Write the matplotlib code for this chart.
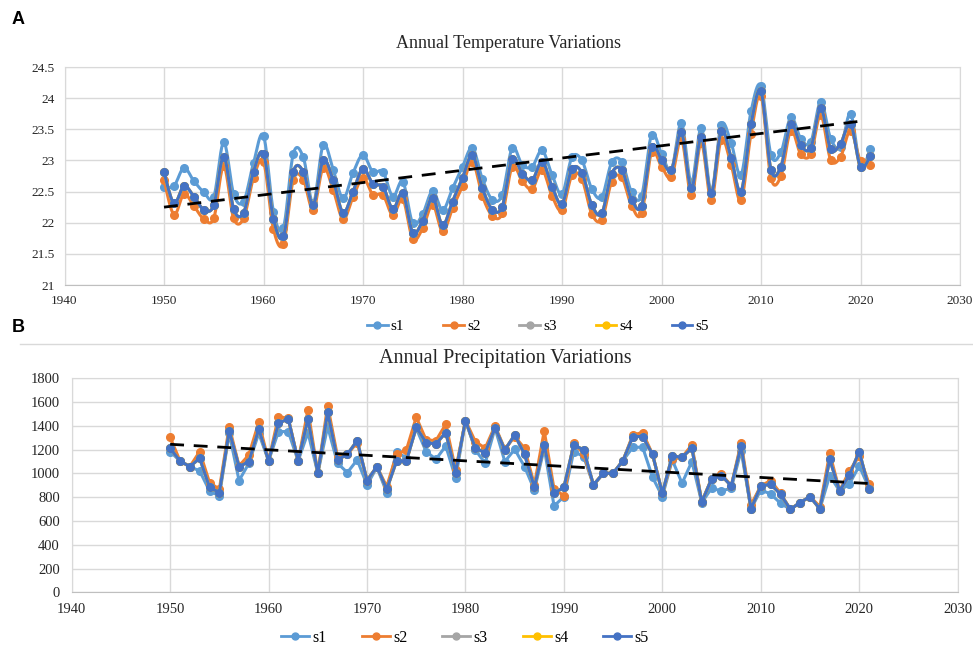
import numpy as np
import matplotlib.pyplot as plt
from matplotlib.lines import Line2D

years = list(range(1950, 2022))

# temperature
temp_s1 = [22.58, 22.59, 22.88, 22.67, 22.49, 22.41, 23.29, 22.46, 22.34, 22.96,
           23.40, 22.18, 21.92, 23.11, 23.05, 22.31, 23.25, 22.85, 22.39, 22.80,
           23.09, 22.81, 22.82, 22.42, 22.66, 21.99, 22.14, 22.51, 22.20, 22.55,
           22.90, 23.20, 22.70, 22.37, 22.45, 23.20, 22.93, 22.90, 23.16, 22.77,
           22.46, 23.05, 23.00, 22.54, 22.41, 22.97, 22.98, 22.49, 22.43, 23.41,
           23.11, 22.85, 23.60, 22.64, 23.52, 22.50, 23.57, 23.28, 22.77, 23.79,
           24.20, 23.09, 23.13, 23.69, 23.35, 23.29, 23.94, 23.35, 23.21, 23.75,
           22.91, 23.18]
temp_s2 = [22.68, 22.13, 22.46, 22.27, 22.06, 22.07, 22.91, 22.07, 22.07, 22.72,
           22.98, 21.90, 21.66, 22.69, 22.69, 22.21, 22.88, 22.53, 22.06, 22.41,
           22.72, 22.45, 22.45, 22.12, 22.38, 21.74, 21.91, 22.29, 21.86, 22.23,
           22.59, 22.98, 22.43, 22.11, 22.15, 22.90, 22.67, 22.54, 22.85, 22.43,
           22.20, 22.76, 22.70, 22.14, 22.05, 22.66, 22.73, 22.27, 22.15, 23.13,
           22.90, 22.73, 23.34, 22.45, 23.28, 22.37, 23.33, 22.93, 22.36, 23.43,
           24.04, 22.72, 22.75, 23.48, 23.10, 23.10, 23.73, 23.01, 23.06, 23.48,
           22.99, 22.93]
temp_s5 = [22.81, 22.31, 22.59, 22.42, 22.21, 22.28, 23.06, 22.22, 22.16, 22.82,
           23.11, 22.06, 21.78, 22.82, 22.82, 22.29, 23.00, 22.68, 22.16, 22.50,
           22.87, 22.62, 22.58, 22.22, 22.47, 21.84, 22.03, 22.40, 21.96, 22.34,
           22.72, 23.08, 22.55, 22.21, 22.26, 23.03, 22.79, 22.68, 22.98, 22.58,
           22.30, 22.86, 22.80, 22.28, 22.15, 22.79, 22.85, 22.37, 22.27, 23.22,
           23.01, 22.85, 23.45, 22.55, 23.37, 22.47, 23.47, 23.04, 22.50, 23.58,
           24.11, 22.85, 22.90, 23.58, 23.24, 23.20, 23.84, 23.18, 23.27, 23.59,
           22.90, 23.07]
temp_s3 = list(temp_s5)  # hidden under s5
temp_s4 = list(temp_s5)
temp_trend_x = [1950, 2020]
temp_trend_y = [22.25, 23.63]

# precipitation
prec_s1 = [1184, 1105, 1057, 1021, 853, 811, 1338, 940, 1085, 1338,
           1105, 1352, 1352, 1105, 1344, 1001, 1394, 1086, 1007, 1114,
           903, 1052, 839, 1184, 1128, 1380, 1184, 1119, 1231, 959,
           1445, 1198, 1086, 1380, 1100, 1203, 1057, 861, 1212, 726,
           805, 1184, 1142, 903, 1001, 1001, 1108, 1220, 1220, 968,
           805, 1114, 917, 1100, 755, 875, 853, 875, 1192, 701,
           861, 827, 749, 698, 755, 805, 701, 982, 853, 912,
           1063, 875]
prec_s2 = [1304, 1105, 1057, 1184, 923, 867, 1394, 1063, 1156, 1431,
           1105, 1478, 1464, 1105, 1534, 1001, 1571, 1142, 1161, 1259,
           940, 1057, 889, 1161, 1198, 1473, 1282, 1276, 1414, 1029,
           1445, 1268, 1212, 1400, 1203, 1310, 1212, 903, 1358, 867,
           813, 1259, 1164, 903, 1001, 1001, 1108, 1324, 1344, 1161,
           833, 1119, 1136, 1240, 763, 954, 996, 895, 1259, 735,
           895, 940, 833, 698, 755, 805, 721, 1170, 853, 1021,
           1147, 912]
prec_s5 = [1212, 1105, 1057, 1128, 884, 839, 1358, 1057, 1100, 1374,
           1105, 1422, 1459, 1105, 1459, 1001, 1515, 1114, 1161, 1276,
           940, 1057, 867, 1105, 1105, 1389, 1259, 1248, 1344, 1007,
           1445, 1212, 1175, 1386, 1198, 1324, 1161, 884, 1240, 833,
           884, 1240, 1198, 903, 1001, 1001, 1108, 1310, 1310, 1161,
           833, 1147, 1136, 1212, 758, 954, 982, 895, 1231, 701,
           895, 909, 825, 698, 755, 805, 701, 1119, 853, 987,
           1184, 867]
prec_s3 = list(prec_s5)
prec_s4 = list(prec_s5)
prec_trend_x = [1950, 2021]
prec_trend_y = [1245, 915]

labels = ['s1', 's2', 's3', 's4', 's5']
colors = ['#5B9BD5', '#ED7D31', '#A5A5A5', '#FFC000', '#4472C4']


def smooth(x, y, n=10):
    # excel-like smoothed line (catmull-rom as bezier)
    x = np.asarray(x, float)
    y = np.asarray(y, float)
    xs, ys = [], []
    t = np.linspace(0, 1, n, endpoint=False)
    for i in range(len(x) - 1):
        a = max(i - 1, 0)
        b = min(i + 2, len(x) - 1)
        p0 = np.array([x[i], y[i]])
        p3 = np.array([x[i + 1], y[i + 1]])
        p1 = p0 + (p3 - np.array([x[a], y[a]])) / 6
        p2 = p3 - (np.array([x[b], y[b]]) - p0) / 6
        pts = ((1 - t) ** 3)[:, None] * p0 + (3 * (1 - t) ** 2 * t)[:, None] * p1 \
            + (3 * (1 - t) * t ** 2)[:, None] * p2 + (t ** 3)[:, None] * p3
        xs.extend(pts[:, 0])
        ys.extend(pts[:, 1])
    xs.append(x[-1])
    ys.append(y[-1])
    return xs, ys


plt.rcParams['font.family'] = 'Liberation Serif'
W, H = 973, 646
fig = plt.figure(figsize=(W / 100, H / 100), dpi=100)


def px_axes(l, t, r, b):
    return fig.add_axes([l / W, 1 - b / H, (r - l) / W, (b - t) / H])


def style(ax, fs, ypad):
    ax.grid(True, color='#D9D9D9', linewidth=1)
    ax.set_axisbelow(True)
    for s in ax.spines.values():
        s.set_color('#D9D9D9')
    ax.spines['bottom'].set_color('#BFBFBF')
    ax.tick_params(axis='y', length=0, labelsize=fs, pad=ypad, colors='#262626')
    ax.tick_params(axis='x', length=0, labelsize=fs, pad=7.5, colors='#262626')
    ax.set_xlim(1940, 2030)
    ax.set_xticks(range(1940, 2031, 10))


# A: temperature
ax1 = px_axes(64.5, 67, 960, 285)
style(ax1, 9.5, 7)
ax1.set_ylim(21, 24.5)
ax1.set_yticks(np.arange(21, 24.51, 0.5))
ax1.set_yticklabels(['{:g}'.format(v) for v in np.arange(21, 24.51, 0.5)])
for ser, c in zip([temp_s1, temp_s2, temp_s3, temp_s4, temp_s5], colors):
    sx, sy = smooth(years, ser)
    ax1.plot(sx, sy, color=c, lw=2.2, solid_capstyle='round')
    ax1.plot(years, ser, 'o', color=c, ms=5.5)
ax1.plot(temp_trend_x, temp_trend_y, color='black', lw=2, ls=(0, (5, 3.5)))

# B: precipitation
ax2 = px_axes(71.7, 378.3, 957.7, 592.3)
style(ax2, 10.5, 8.5)
ax2.set_ylim(0, 1800)
ax2.set_yticks(range(0, 1801, 200))
for ser, c in zip([prec_s1, prec_s2, prec_s3, prec_s4, prec_s5], colors):
    ax2.plot(years, ser, color=c, lw=2.2, marker='o', ms=5.5)
ax2.plot(prec_trend_x, prec_trend_y, color='black', lw=2, ls=(0, (5, 3.5)))

fig.text(509 / W, 1 - 43 / H, 'Annual Temperature Variations', ha='center', va='center',
         fontsize=13, color='#262626')
fig.text(505 / W, 1 - 359 / H, 'Annual Precipitation Variations', ha='center', va='center',
         fontsize=14.5, color='#262626')
fig.text(12 / W, 1 - 20 / H, 'A', fontsize=13, fontweight='bold', family='Liberation Sans',
         va='center')
fig.text(12 / W, 1 - 327 / H, 'B', fontsize=13, fontweight='bold', family='Liberation Sans',
         va='center')
fig.add_artist(Line2D([20 / W, 1], [1 - 344 / H, 1 - 344 / H], color='#D9D9D9', lw=1))

handles = [Line2D([], [], color=c, lw=2, marker='o', ms=5) for c in colors]
fig.legend(handles, labels, loc='center', bbox_to_anchor=(538 / W, 1 - 326.5 / H), ncol=5,
           frameon=False, fontsize=11, handlelength=1.35, handletextpad=0.2,
           columnspacing=2.55)
fig.legend(handles, labels, loc='center', bbox_to_anchor=(465 / W, 1 - 637.5 / H), ncol=5,
           frameon=False, fontsize=11.5, handlelength=1.75, handletextpad=0.2,
           columnspacing=2.2)

fig.savefig('out.png', dpi=100)
